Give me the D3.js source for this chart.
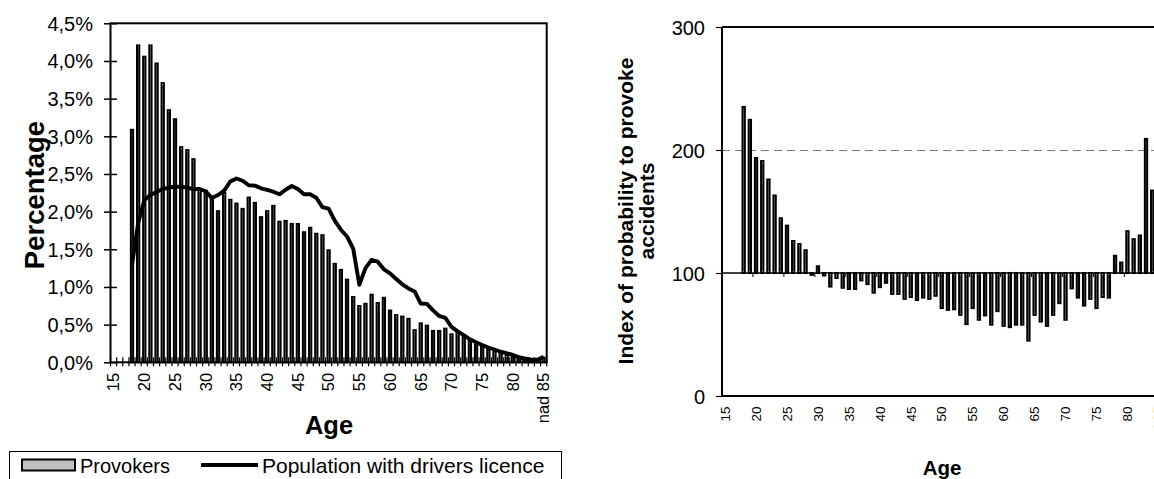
<!DOCTYPE html>
<html><head><meta charset="utf-8">
<script src="https://cdn.jsdelivr.net/npm/d3@7"></script>
<style>
body{margin:0;background:#fff}
svg{display:block}
text{font-family:"Liberation Sans",Arial,Helvetica,sans-serif;fill:#000}
</style>
</head><body>
<svg id="c" width="1154" height="479"></svg>
<script>
// ---- data ----
const ages = ["15","16","17","18","19","20","21","22","23","24","25","26","27","28","29",
  "30","31","32","33","34","35","36","37","38","39","40","41","42","43","44",
  "45","46","47","48","49","50","51","52","53","54","55","56","57","58","59",
  "60","61","62","63","64","65","66","67","68","69","70","71","72","73","74",
  "75","76","77","78","79","80","81","82","83","84","nad 85"];
// share of accident provokers (%)
const provokers = [0,0,0,3.10,4.22,4.07,4.22,3.98,3.72,3.36,3.24,2.87,2.83,2.71,2.30,
  2.29,2.20,2.02,2.26,2.17,2.12,2.05,2.20,2.13,1.94,2.02,2.09,1.88,1.89,1.85,
  1.85,1.74,1.80,1.72,1.70,1.50,1.32,1.24,1.11,0.88,0.76,0.79,0.91,0.80,0.87,
  0.70,0.64,0.62,0.59,0.44,0.53,0.50,0.43,0.43,0.46,0.385,0.42,0.35,0.30,0.25,
  0.22,0.18,0.15,0.13,0.11,0.09,0.07,0.05,0.04,0.035,0.075];
// share of population with drivers licence (%)
const population = [null,null,null,1.29,1.85,2.15,2.22,2.26,2.30,2.32,2.33,2.33,2.32,2.30,2.30,
  2.27,2.18,2.22,2.28,2.40,2.44,2.41,2.35,2.345,2.31,2.29,2.265,2.23,2.29,2.34,
  2.30,2.23,2.23,2.185,2.06,2.04,1.88,1.76,1.67,1.51,1.03,1.25,1.36,1.335,1.235,
  1.18,1.105,1.035,0.98,0.94,0.78,0.775,0.69,0.615,0.59,0.47,0.41,0.36,0.305,0.265,
  0.23,0.195,0.17,0.14,0.12,0.097,0.07,0.05,0.035,0.035,0.075];
// index of probability to provoke accidents
const probIndex = [null,null,null,235,224.5,193.5,191,176,163,144.5,138.5,126,123.5,118.5,98.5,
  105.5,98,89,96,88,87,87,94,91,84,88.5,92,83,83,79,
  80.5,78,80,79,81.5,71.5,70,70.5,66,58.5,71.5,62,65.5,58,69,
  57,56,58,58,45,66,60.5,57,66,75.5,62,87.5,80,73.5,79,
  71.5,80.5,80,114,108.5,134,127.5,130.5,209,167,null];
const leftYTicks = [0,0.5,1,1.5,2,2.5,3,3.5,4,4.5];
const rightYTicks = [0,100,200,300];
const xLabelAges = ["15","20","25","30","35","40","45","50","55","60","65","70","75","80","nad 85"];
const legendLabels = ["Provokers","Population with drivers licence"];

const svg = d3.select("#c");
const FS = '"Liberation Sans",Arial,Helvetica,sans-serif';
const SW = 2.05;

// ================= LEFT CHART =================
const L = {x0:110.5, x1:546.7, y0:362.3, y1:23.3};
const xL = d3.scaleBand().domain(ages).range([L.x0, L.x1]).paddingInner(0.3).paddingOuter(0.15);
const yL = d3.scaleLinear().domain([0,4.5]).range([L.y0, L.y1]);
const stepL = xL.step(), bwL = xL.bandwidth();

const gl = svg.append("g");
gl.selectAll("rect.bar").data(ages.map((a,i)=>({a, v:provokers[i]})).filter(d=>d.v>0))
  .join("rect").attr("class","bar")
  .attr("x", d=>xL(d.a)+SW/2).attr("width", bwL-SW)
  .attr("y", d=>yL(d.v)+SW/2).attr("height", d=>Math.max(0, yL(0)-yL(d.v)-SW/2))
  .attr("fill","#c0c0c0").attr("stroke","#000").attr("stroke-width",SW);

// y axis labels via d3 axis
const yAxL = d3.axisLeft(yL).tickValues(leftYTicks)
  .tickFormat(d=>d3.format(".1f")(d).replace(".",",")+"%")
  .tickSizeInner(6).tickSizeOuter(0).tickPadding(11.5);
const gya = gl.append("g").attr("transform",`translate(${L.x0},0)`).call(yAxL);
gya.select(".domain").remove();
gya.selectAll(".tick line").attr("x1",6.5).attr("x2",-6.5).attr("stroke","#000").attr("stroke-width",1.5);
gya.selectAll(".tick text").attr("font-size","20px").attr("font-family",FS).attr("dy","0.35em");

// x ticks at every category boundary (crossing)
const boundsL = ages.map(a=>xL(a)-(stepL-bwL)/2).concat([L.x1]);
gl.selectAll("line.xt").data(boundsL).join("line")
  .attr("x1",d=>d).attr("x2",d=>d).attr("y1",L.y0-5).attr("y2",L.y0+4)
  .attr("stroke","#000").attr("stroke-width",1.2);

// x labels
gl.selectAll("text.xl").data(xLabelAges).join("text")
  .attr("transform",d=>`translate(${xL(d)+bwL/2},${L.y0+10.5}) rotate(-90)`)
  .attr("text-anchor","end").attr("dy","0.35em").attr("font-size","16.5px").text(d=>d);

// population line
const lineL = d3.line().defined(d=>d.v!=null).x(d=>xL(d.a)+bwL/2).y(d=>yL(d.v));
gl.append("path").datum(ages.map((a,i)=>({a, v:population[i]})))
  .attr("d", lineL).attr("fill","none").attr("stroke","#000").attr("stroke-width",3.9)
  .attr("stroke-linejoin","round");

// frame
gl.append("rect").attr("x",L.x0).attr("y",L.y1).attr("width",L.x1-L.x0).attr("height",L.y0-L.y1)
  .attr("fill","none").attr("stroke","#000").attr("stroke-width",2);

// titles
gl.append("text").attr("transform",`translate(43.5,195) rotate(-90)`).attr("text-anchor","middle")
  .attr("font-size","27.5px").attr("font-weight","bold").text("Percentage");
gl.append("text").attr("x",329).attr("y",434).attr("text-anchor","middle")
  .attr("font-size","25.5px").attr("font-weight","bold").text("Age");

// legend
const lg = svg.append("g");
lg.append("rect").attr("x",9.5).attr("y",451.5).attr("width",552).attr("height",40)
  .attr("fill","#fff").attr("stroke","#000").attr("stroke-width",1);
lg.append("rect").attr("x",22).attr("y",459.5).attr("width",53).attr("height",11)
  .attr("fill","#c0c0c0").attr("stroke","#000").attr("stroke-width",2);
lg.append("text").attr("x",80).attr("y",472.5).attr("font-size","20px").text(legendLabels[0]);
lg.append("line").attr("x1",201).attr("x2",258).attr("y1",465).attr("y2",465)
  .attr("stroke","#000").attr("stroke-width",4);
lg.append("text").attr("x",262).attr("y",472.5).attr("font-size","21px").text(legendLabels[1]);

// ================= RIGHT CHART =================
const R = {x0:722, x1:722+71*6.19, y0:396, y1:27};
const xR = d3.scaleBand().domain(ages).range([R.x0, R.x1]).paddingInner(0.3).paddingOuter(0.15);
const yR = d3.scaleLinear().domain([0,300]).range([R.y0, R.y1]);
const stepR = xR.step(), bwR = xR.bandwidth();
const gr = svg.append("g");

// dashed gridline at 200
gr.append("line").attr("x1",R.x0).attr("x2",1160).attr("y1",Math.round(yR(200))+0.5).attr("y2",Math.round(yR(200))+0.5)
  .attr("stroke","#777").attr("stroke-width",1).attr("stroke-dasharray","8,5");

gr.selectAll("rect.bar").data(ages.map((a,i)=>({a, v:probIndex[i]})).filter(d=>d.v!=null))
  .join("rect").attr("class","bar")
  .attr("x", d=>xR(d.a)+SW/2).attr("width", bwR-SW)
  .attr("y", d=>Math.min(yR(d.v), yR(100)))
  .attr("height", d=>Math.abs(yR(d.v)-yR(100)))
  .attr("fill","#c0c0c0").attr("stroke","#000").attr("stroke-width",SW);

// x axis line at 100
gr.append("line").attr("x1",R.x0).attr("x2",1160).attr("y1",yR(100)).attr("y2",yR(100))
  .attr("stroke","#000").attr("stroke-width",1.3);
// x ticks every 5 categories on the 100-line
gr.selectAll("line.xt").data(xLabelAges).join("line")
  .attr("x1",d=>xR(d)-(stepR-bwR)/2).attr("x2",d=>xR(d)-(stepR-bwR)/2)
  .attr("y1",yR(100)).attr("y2",yR(100)+4).attr("stroke","#000").attr("stroke-width",1);

// y axis
const yAxR = d3.axisLeft(yR).tickValues(rightYTicks).tickSizeInner(6).tickSizeOuter(0).tickPadding(11);
const gyr = gr.append("g").attr("transform",`translate(${R.x0},0)`).call(yAxR);
gyr.select(".domain").remove();
gyr.selectAll(".tick line").attr("stroke","#000").attr("stroke-width",1.2);
gyr.selectAll(".tick text").attr("font-size","20px").attr("font-family",FS).attr("dy","0.35em");

// frame lines
gr.append("line").attr("x1",R.x0).attr("x2",R.x0).attr("y1",R.y1).attr("y2",R.y0).attr("stroke","#000").attr("stroke-width",2);
gr.append("line").attr("x1",R.x0).attr("x2",1160).attr("y1",R.y1).attr("y2",R.y1).attr("stroke","#000").attr("stroke-width",2);
gr.append("line").attr("x1",R.x0).attr("x2",1160).attr("y1",R.y0).attr("y2",R.y0).attr("stroke","#000").attr("stroke-width",2);

// x labels at bottom
gr.selectAll("text.xl").data(xLabelAges).join("text")
  .attr("transform",d=>`translate(${xR(d)+bwR/2},${R.y0+10.5}) rotate(-90)`)
  .attr("text-anchor","end").attr("dy","0.35em").attr("font-size","13.5px").text(d=>d);

// titles
gr.append("text").attr("transform",`translate(633,211) rotate(-90)`).attr("text-anchor","middle")
  .attr("font-size","21px").attr("font-weight","bold").text("Index of probability to provoke");
gr.append("text").attr("transform",`translate(654,211) rotate(-90)`).attr("text-anchor","middle")
  .attr("font-size","21px").attr("font-weight","bold").text("accidents");
gr.append("text").attr("x",942).attr("y",475).attr("text-anchor","middle")
  .attr("font-size","20.5px").attr("font-weight","bold").text("Age");
</script>
</body></html>
